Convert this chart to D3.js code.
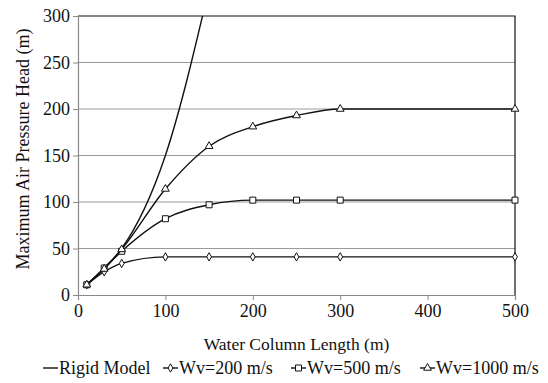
<!DOCTYPE html>
<html>
<head>
<meta charset="utf-8">
<script src="https://cdn.jsdelivr.net/npm/d3@7"></script>
<style>
  body { margin: 0; background: #fff; }
</style>
</head>
<body>
<svg id="chart" width="548" height="383"></svg>
<script>
// data
const rigidLength = [10, 30, 50, 100, 150];
const rigidHead = [11, 29, 50, 150, 330];
const lengths = [10, 30, 50, 100, 150, 200, 250, 300, 500];
const wv200 = [11, 25, 34, 41, 41, 41, 41, 41, 41];
const wv500 = [11, 29, 47, 82, 97, 102, 102, 102, 102];
const wv1000 = [11, 28, 49, 114, 160, 181, 193, 200, 200];
const xTicks = [0, 100, 200, 300, 400, 500];
const yTicks = [0, 50, 100, 150, 200, 250, 300];
const legendNames = ["Rigid Model", "Wv=200 m/s", "Wv=500 m/s", "Wv=1000 m/s"];

const fontName = "Times New Roman, Liberation Serif, DejaVu Serif, serif";

const margin = { left: 78, right: 33, top: 16, bottom: 88 };
const width = 548 - margin.left - margin.right;
const height = 383 - margin.top - margin.bottom;

const svg = d3.select("#chart").attr("font-family", fontName);
const g = svg.append("g").attr("transform", "translate(" + margin.left + "," + margin.top + ")");

const x = d3.scaleLinear().domain([0, 500]).range([0, width]);
const y = d3.scaleLinear().domain([0, 300]).range([height, 0]);

// grid lines
g.selectAll(".grid")
  .data(yTicks.slice(1, -1))
  .enter().append("line")
  .attr("x1", 0).attr("x2", width)
  .attr("y1", d => y(d)).attr("y2", d => y(d))
  .attr("stroke", "#9a9a9a").attr("stroke-width", 1);

// top and right border
g.append("path")
  .attr("d", "M0," + y(300) + "H" + width + "V" + height)
  .attr("fill", "none").attr("stroke", "#111").attr("stroke-width", 1.2);

// axes
const xAxis = g.append("g")
  .attr("transform", "translate(0," + height + ")")
  .call(d3.axisBottom(x).tickValues(xTicks).tickSize(5).tickPadding(4));
const yAxis = g.append("g")
  .call(d3.axisLeft(y).tickValues(yTicks).tickSize(5).tickPadding(3));
[xAxis, yAxis].forEach(a => {
  a.attr("font-family", fontName).attr("font-size", 18);
  a.select(".domain").attr("stroke", "#8a8a8a").attr("stroke-width", 1.2);
  a.selectAll(".tick line").attr("stroke", "#8a8a8a");
  a.selectAll("text").attr("fill", "#111");
});

// axis titles
svg.append("text")
  .attr("x", margin.left + width / 2).attr("y", 350)
  .attr("text-anchor", "middle")
  .attr("font-size", 17.5).attr("fill", "#111")
  .text("Water Column Length (m)");
svg.append("text")
  .attr("transform", "translate(29,149) rotate(-90)")
  .attr("text-anchor", "middle")
  .attr("font-size", 18).attr("fill", "#111")
  .text("Maximum Air Pressure Head (m)");

// clip
svg.append("defs").append("clipPath").attr("id", "plotclip")
  .append("rect").attr("x", 0).attr("y", 0).attr("width", width).attr("height", height);

const line = d3.line()
  .x(d => x(d[0])).y(d => y(d[1]))
  .curve(d3.curveMonotoneX);

const series = [
  { pts: d3.zip(lengths, wv200), marker: "diamond" },
  { pts: d3.zip(lengths, wv500), marker: "square" },
  { pts: d3.zip(lengths, wv1000), marker: "triangle" }
];

g.append("path")
  .datum(d3.zip(rigidLength, rigidHead))
  .attr("clip-path", "url(#plotclip)")
  .attr("d", line)
  .attr("fill", "none").attr("stroke", "#111").attr("stroke-width", 1.4);

const symbols = {
  diamond: d3.symbol().type(d3.symbolDiamond).size(20),
  square: d3.symbol().type(d3.symbolSquare).size(36),
  triangle: d3.symbol().type(d3.symbolTriangle).size(26)
};

series.forEach(s => {
  g.append("path")
    .datum(s.pts)
    .attr("d", line)
    .attr("fill", "none").attr("stroke", "#111").attr("stroke-width", 1.4);
  g.selectAll(".m-" + s.marker)
    .data(s.pts)
    .enter().append("path")
    .attr("transform", d => "translate(" + x(d[0]) + "," + y(d[1]) + ")")
    .attr("d", symbols[s.marker])
    .attr("fill", "#fff").attr("stroke", "#111").attr("stroke-width", 1);
});

// legend
const legendX = [43, 163, 291, 420];
const legendMarkers = [null, "diamond", "square", "triangle"];
const legY = 374;
legendNames.forEach((name, i) => {
  const lg = svg.append("g").attr("transform", "translate(" + legendX[i] + "," + legY + ")");
  lg.append("line").attr("x1", 0).attr("x2", 15).attr("y1", -6).attr("y2", -6)
    .attr("stroke", "#111").attr("stroke-width", 1.4);
  if (legendMarkers[i]) {
    lg.append("path").attr("transform", "translate(7.5,-6)")
      .attr("d", symbols[legendMarkers[i]])
      .attr("fill", "#fff").attr("stroke", "#111").attr("stroke-width", 1);
  }
  lg.append("text").attr("x", 16).attr("y", 0)
    .attr("font-size", 18).attr("fill", "#111")
    .text(name);
});
</script>
</body>
</html>
